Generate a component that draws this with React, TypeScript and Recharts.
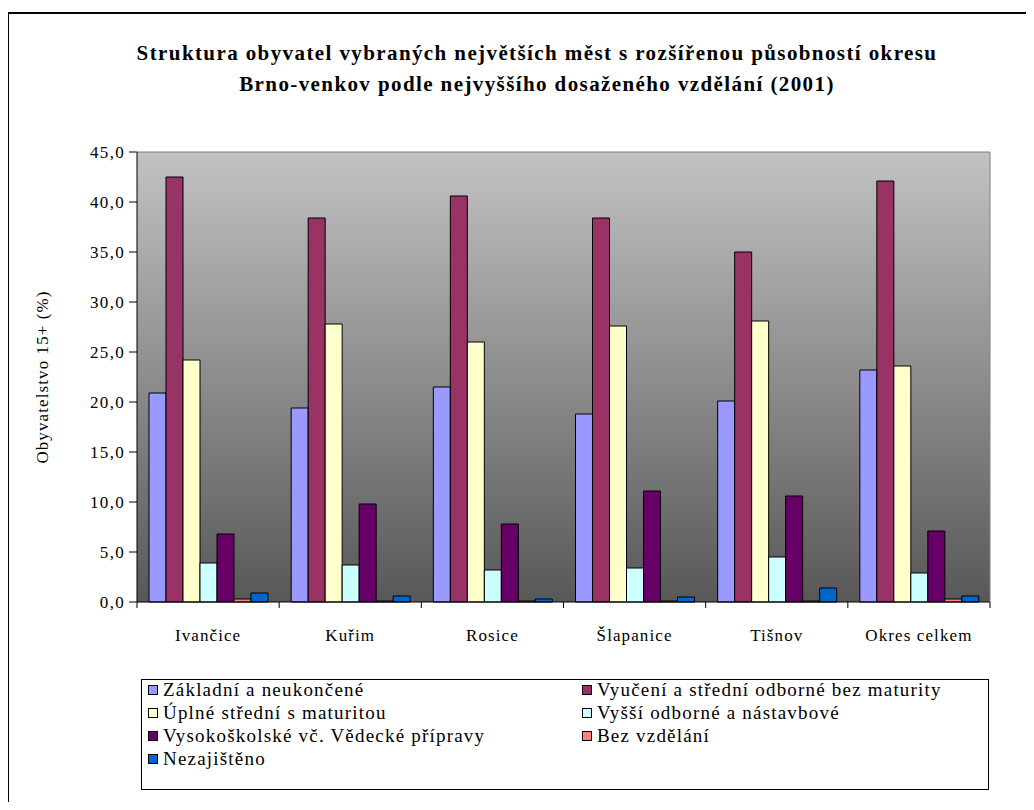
import React from "react";
import {
  BarChart,
  Bar,
  XAxis,
  YAxis,
  CartesianGrid,
  ReferenceLine,
  Label,
} from "recharts";

// ─── Data ────────────────────────────────────────────────────────────────────

const CITIES = ["Ivančice", "Kuřim", "Rosice", "Šlapanice", "Tišnov", "Okres celkem"];

const ZAKLADNI = [20.9, 19.4, 21.5, 18.8, 20.1, 23.2];
const VYUCENI = [42.5, 38.4, 40.6, 38.4, 35.0, 42.1];
const UPLNE_STREDNI = [24.2, 27.8, 26.0, 27.6, 28.1, 23.6];
const VYSSI_ODBORNE = [3.9, 3.7, 3.2, 3.4, 4.5, 2.9];
const VYSOKOSKOLSKE = [6.8, 9.8, 7.8, 11.1, 10.6, 7.1];
const BEZ_VZDELANI = [0.3, 0.1, 0.1, 0.1, 0.1, 0.3];
const NEZJISTENO = [0.9, 0.6, 0.3, 0.5, 1.4, 0.6];

const Y_TICKS = [0, 5, 10, 15, 20, 25, 30, 35, 40, 45];

const SERIES = [
  { key: "zakladni", name: "Základní a neukončené", values: ZAKLADNI, color: "#9999FF" },
  { key: "vyuceni", name: "Vyučení a střední odborné bez maturity", values: VYUCENI, color: "#993366" },
  { key: "uplne", name: "Úplné střední s maturitou", values: UPLNE_STREDNI, color: "#FFFFCC" },
  { key: "vyssi", name: "Vyšší odborné a nástavbové", values: VYSSI_ODBORNE, color: "#CCFFFF" },
  { key: "vysoko", name: "Vysokoškolské vč. Vědecké přípravy", values: VYSOKOSKOLSKE, color: "#660066" },
  { key: "bez", name: "Bez vzdělání", values: BEZ_VZDELANI, color: "#FF8080" },
  { key: "nezjisteno", name: "Nezajištěno", values: NEZJISTENO, color: "#0066CC" },
];

const chartData = CITIES.map((city, i) => {
  const row: Record<string, string | number> = { city };
  SERIES.forEach((s) => {
    row[s.key] = s.values[i];
  });
  return row;
});

const FONT = '"Liberation Serif", "Times New Roman", serif';

// ─── Layout ──────────────────────────────────────────────────────────────────

const W = 1034;
const H = 810;
const PLOT_LEFT = 137;
const PLOT_RIGHT = 990;
const PLOT_TOP = 152;
const PLOT_BOTTOM = 602;
const Y_AXIS_W = 110;
const X_AXIS_H = 40;
const BAND = (PLOT_RIGHT - PLOT_LEFT) / CITIES.length;

const fmt = (v: number): string => v.toFixed(1).replace(".", ",");

// category tick: boundary marks between groups + label under the centre
function CategoryTick(props: any): React.ReactNode {
  const { x, y, payload, index } = props;
  const half = payload && payload.offset ? payload.offset : BAND / 2;
  const last = index === CITIES.length - 1;
  return (
    <g>
      <line x1={x - half} y1={y} x2={x - half} y2={y + 6} stroke="#000" />
      {last && <line x1={x + half} y1={y} x2={x + half} y2={y + 6} stroke="#000" />}
      <text
        x={x}
        y={y + 39}
        textAnchor="middle"
        fontFamily={FONT}
        fontSize={17}
        letterSpacing={1.1}
        fill="#000"
      >
        {payload.value}
      </text>
    </g>
  );
}

function LegendBox(): React.ReactNode {
  return (
    <div
      style={{
        position: "absolute",
        left: 141,
        top: 679,
        width: 846,
        height: 109,
        border: "1px solid #000",
        background: "#fff",
        fontFamily: FONT,
        fontSize: 19,
        letterSpacing: 1.2,
        color: "#000",
      }}
    >
      {SERIES.map((s, i) => {
        const col = i % 2;
        const row = Math.floor(i / 2);
        return (
          <div
            key={s.key}
            style={{
              position: "absolute",
              left: col === 0 ? 6 : 440,
              top: -2 + row * 23,
              height: 23,
              lineHeight: "23px",
              display: "flex",
              alignItems: "center",
              whiteSpace: "nowrap",
            }}
          >
            <span
              style={{
                display: "inline-block",
                width: 8,
                height: 8,
                border: "1px solid #000",
                background: s.color,
                marginRight: 5,
              }}
            />
            {s.name}
          </div>
        );
      })}
    </div>
  );
}

export default function App(): React.ReactNode {
  return (
    <div style={{ position: "relative", width: W, height: H, margin: -8, overflow: "hidden", background: "#fff" }}>
      {/* outer frame (continues beyond the visible page) */}
      <div
        style={{
          position: "absolute",
          left: 7,
          top: 12,
          width: 1100,
          height: 900,
          borderLeft: "2px solid #000",
          borderTop: "2px solid #000",
        }}
      />

      <div
        style={{
          position: "absolute",
          left: 0,
          top: 38,
          width: 1074,
          textAlign: "center",
          fontFamily: FONT,
          fontWeight: "bold",
          fontSize: 21,
          letterSpacing: 1.4,
          lineHeight: "31px",
          color: "#000",
        }}
      >
        <div>Struktura obyvatel vybraných největších měst s rozšířenou působností okresu</div>
        <div>Brno-venkov podle nejvyššího dosaženého vzdělání (2001)</div>
      </div>

      <div style={{ position: "absolute", left: 0, top: 0 }}>
        <BarChart
          width={W}
          height={H}
          data={chartData}
          barGap={0}
          barCategoryGap={12}
          margin={{
            top: PLOT_TOP,
            right: W - PLOT_RIGHT - 1,
            bottom: H - PLOT_BOTTOM - X_AXIS_H,
            left: PLOT_LEFT - Y_AXIS_W,
          }}
        >
          <defs>
            <linearGradient id="plotBg" x1="0" y1="0" x2="0" y2="1">
              <stop offset="0%" stopColor="#C2C2C2" />
              <stop offset="100%" stopColor="#585858" />
            </linearGradient>
          </defs>
          <CartesianGrid horizontal={false} vertical={false} fill="url(#plotBg)" fillOpacity={1} />
          <ReferenceLine y={45} stroke="#808080" />
          <XAxis
            dataKey="city"
            height={X_AXIS_H}
            interval={0}
            tickLine={false}
            tickSize={0}
            tickMargin={0}
            axisLine={{ stroke: "#000" }}
            tick={<CategoryTick />}
          />
          <YAxis
            width={Y_AXIS_W}
            domain={[0, 45]}
            ticks={Y_TICKS}
            interval={0}
            tickFormatter={fmt}
            tickSize={8}
            tickMargin={4}
            axisLine={{ stroke: "#000" }}
            tickLine={{ stroke: "#000" }}
            tick={{ fontFamily: FONT, fontSize: 17, fill: "#000", letterSpacing: 1.3 }}
          >
            <Label
              content={(p: any) => {
                const vb = p.viewBox || {};
                const cx = 42;
                const cy = (vb.y ?? PLOT_TOP) + (vb.height ?? PLOT_BOTTOM - PLOT_TOP) / 2;
                return (
                  <text
                    x={cx}
                    y={cy}
                    transform={`rotate(-90 ${cx} ${cy})`}
                    textAnchor="middle"
                    dominantBaseline="central"
                    fontFamily={FONT}
                    fontSize={17}
                    letterSpacing={1.1}
                    fill="#000"
                  >
                    Obyvatelstvo 15+ (%)
                  </text>
                );
              }}
            />
          </YAxis>
          <YAxis
            yAxisId="right"
            orientation="right"
            width={1}
            domain={[0, 45]}
            tick={false}
            tickLine={false}
            axisLine={{ stroke: "#808080" }}
          />
          {SERIES.map((s) => (
            <Bar
              key={s.key}
              dataKey={s.key}
              name={s.name}
              fill={s.color}
              stroke="#000"
              strokeWidth={1}
              isAnimationActive={false}
            />
          ))}
        </BarChart>
      </div>

      <LegendBox />
    </div>
  );
}
